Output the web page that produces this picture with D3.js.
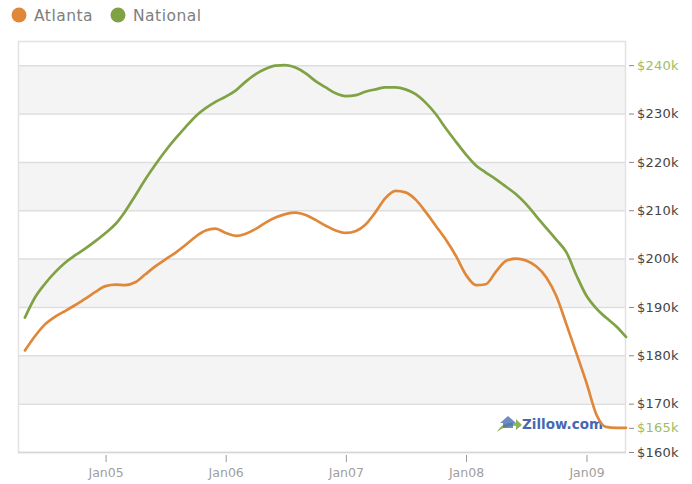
<!DOCTYPE html>
<html>
<head>
<meta charset="utf-8">
<script src="https://cdn.jsdelivr.net/npm/d3@7"></script>
<style>
  html, body { margin: 0; padding: 0; background: #fff; }
  svg { display: block; }
</style>
</head>
<body>
<svg id="chart" width="692" height="484"></svg>
<script>
// Monthly median home values ($k), May 2004 – May 2009
const startMonth = [2004, 4]; // May 2004 (month is 0-based)
const atlanta = [
  181.0, 184.0, 186.4, 188.0, 189.2, 190.4, 191.7, 193.1,
  194.3, 194.6, 194.5, 195.1, 196.7, 198.4, 199.8, 201.2, 202.8, 204.5, 205.8, 206.2,
  205.3, 204.7, 205.1, 206.1, 207.4, 208.5, 209.2, 209.5, 209.0, 208.0, 206.8, 205.8,
  205.3, 205.7, 207.0, 209.6, 212.5, 214.0, 213.7, 212.2, 209.6, 206.8, 203.9, 200.6,
  196.6, 194.5, 194.7, 197.3, 199.5, 200.0, 199.6, 198.4, 196.1, 192.3, 186.4, 180.5,
  174.3, 167.6, 165.2, 165.0, 165.0
];
const national = [
  187.8, 192.0, 194.8, 197.2, 199.2, 200.7, 202.1, 203.6,
  205.3, 207.2, 209.7, 213.0, 216.3, 219.4, 222.2, 224.8, 227.2, 229.4, 231.1, 232.4,
  233.5, 234.8, 236.5, 238.1, 239.2, 239.9, 240.0, 239.5, 238.3, 236.7, 235.4, 234.2,
  233.6, 233.8, 234.5, 235.0, 235.4, 235.4, 235.0, 234.0, 232.2, 229.9, 226.9, 224.2,
  221.5, 219.2, 217.8, 216.4, 214.9, 213.3, 211.3, 208.8, 206.3, 203.9, 201.3, 196.6,
  192.3, 189.6, 187.8, 186.0, 183.8
];
const seriesNames = ["Atlanta", "National"];
const yTicks = [160, 170, 180, 190, 200, 210, 220, 230, 240];
const highlightTicks = [240, 165];
const xTickYears = [2005, 2006, 2007, 2008, 2009];

const colors = { Atlanta: "#e0883a", National: "#7fa244" };

const svg = d3.select("#chart");
const plot = { left: 18, right: 626, top: 41, bottom: 452 };

const x = d3.scaleTime()
  .domain([new Date(2004, 3, 10), new Date(2009, 4, 1)])
  .range([plot.left, plot.right]);
const y = d3.scaleLinear().domain([160, 245]).range([plot.bottom, plot.top]);

const months = atlanta.map((_, i) => new Date(startMonth[0], startMonth[1] + i, 1));

// alternating background bands
const bands = d3.pairs(yTicks).filter((_, i) => i % 2 === 1);
svg.append("g").selectAll("rect").data(bands).join("rect")
  .attr("x", plot.left).attr("width", plot.right - plot.left)
  .attr("y", d => y(d[1])).attr("height", d => y(d[0]) - y(d[1]))
  .attr("fill", "#f4f4f4");

// horizontal grid lines
svg.append("g").selectAll("line").data(yTicks.slice(1)).join("line")
  .attr("x1", plot.left).attr("x2", plot.right)
  .attr("y1", d => y(d) + 0.5).attr("y2", d => y(d) + 0.5)
  .attr("stroke", "#dedede").attr("stroke-width", 1.5);

// plot frame
svg.append("rect")
  .attr("x", plot.left + 0.5).attr("y", plot.top + 0.5)
  .attr("width", plot.right - plot.left - 1).attr("height", plot.bottom - plot.top)
  .attr("fill", "none").attr("stroke", "#e2e2e2").attr("stroke-width", 1.5);
svg.append("line")
  .attr("x1", plot.left).attr("x2", plot.right)
  .attr("y1", plot.bottom + 0.5).attr("y2", plot.bottom + 0.5)
  .attr("stroke", "#d6d6d6").attr("stroke-width", 1.5);

// right value axis
const yAxis = d3.axisRight(y)
  .tickValues(yTicks.concat([165]))
  .tickSize(5).tickPadding(3)
  .tickFormat(d => "$" + d + "k");
const yg = svg.append("g")
  .attr("transform", `translate(${plot.right + 3},0)`)
  .call(yAxis);
yg.select(".domain").remove();
yg.selectAll(".tick line").attr("stroke", "#888");
yg.selectAll(".tick text")
  .attr("font-family", "DejaVu Sans, sans-serif")
  .attr("font-size", 13)
  .attr("letter-spacing", 0.2)
  .attr("fill", d => highlightTicks.includes(d) ? "#9dbd62" : "#454545");

// bottom time axis
const xAxis = d3.axisBottom(x)
  .tickValues(xTickYears.map(yr => new Date(yr, 0, 1)))
  .tickSize(7).tickPadding(6)
  .tickFormat(d3.timeFormat("Jan%y"));
const xg = svg.append("g")
  .attr("transform", `translate(0,${plot.bottom + 3})`)
  .call(xAxis);
xg.select(".domain").remove();
xg.selectAll(".tick line").attr("stroke", "#999");
xg.selectAll(".tick text")
  .attr("font-family", "DejaVu Sans, sans-serif")
  .attr("font-size", 12.5)
  .attr("fill", "#a0a0a0");

// Zillow mark
const logo = svg.append("g").attr("transform", "translate(496,413)");
logo.append("path")
  .attr("d", "M1,19 C5,11 12,9 20,10 L20,6 L26,12 L20,17 L20,13 C13,12 7,14 1,19 Z")
  .attr("fill", "#8fb35a");
logo.append("path")
  .attr("d", "M4,10 L12,3 L20,10 L17,10 L17,15 L7,15 L7,10 Z")
  .attr("fill", "#4a6fb5").attr("opacity", 0.8);
svg.append("text")
  .attr("x", 522).attr("y", 429)
  .attr("font-family", "DejaVu Sans, sans-serif")
  .attr("font-size", 13.5).attr("font-weight", "bold")
  .attr("fill", "#4668b2")
  .text("Zillow.com");

// series lines
const line = d3.line()
  .x((d, i) => x(months[i]))
  .y(d => y(d))
  .curve(d3.curveMonotoneX);
const seriesData = { Atlanta: atlanta, National: national };
seriesNames.forEach(name => {
  svg.append("path")
    .datum(seriesData[name])
    .attr("d", line)
    .attr("fill", "none")
    .attr("stroke", colors[name])
    .attr("stroke-width", 2.7)
    .attr("stroke-linejoin", "round")
    .attr("stroke-linecap", "round");
});

// legend
const legend = svg.append("g");
const legendX = [19, 118];
seriesNames.forEach((name, i) => {
  legend.append("circle")
    .attr("cx", legendX[i]).attr("cy", 15).attr("r", 7.5)
    .attr("fill", colors[name]);
  legend.append("text")
    .attr("x", legendX[i] + 15).attr("y", 21)
    .attr("font-family", "DejaVu Sans, sans-serif")
    .attr("font-size", 15.5).attr("letter-spacing", 0.5)
    .attr("fill", "#7e7e7e")
    .text(name);
});
</script>
</body>
</html>
